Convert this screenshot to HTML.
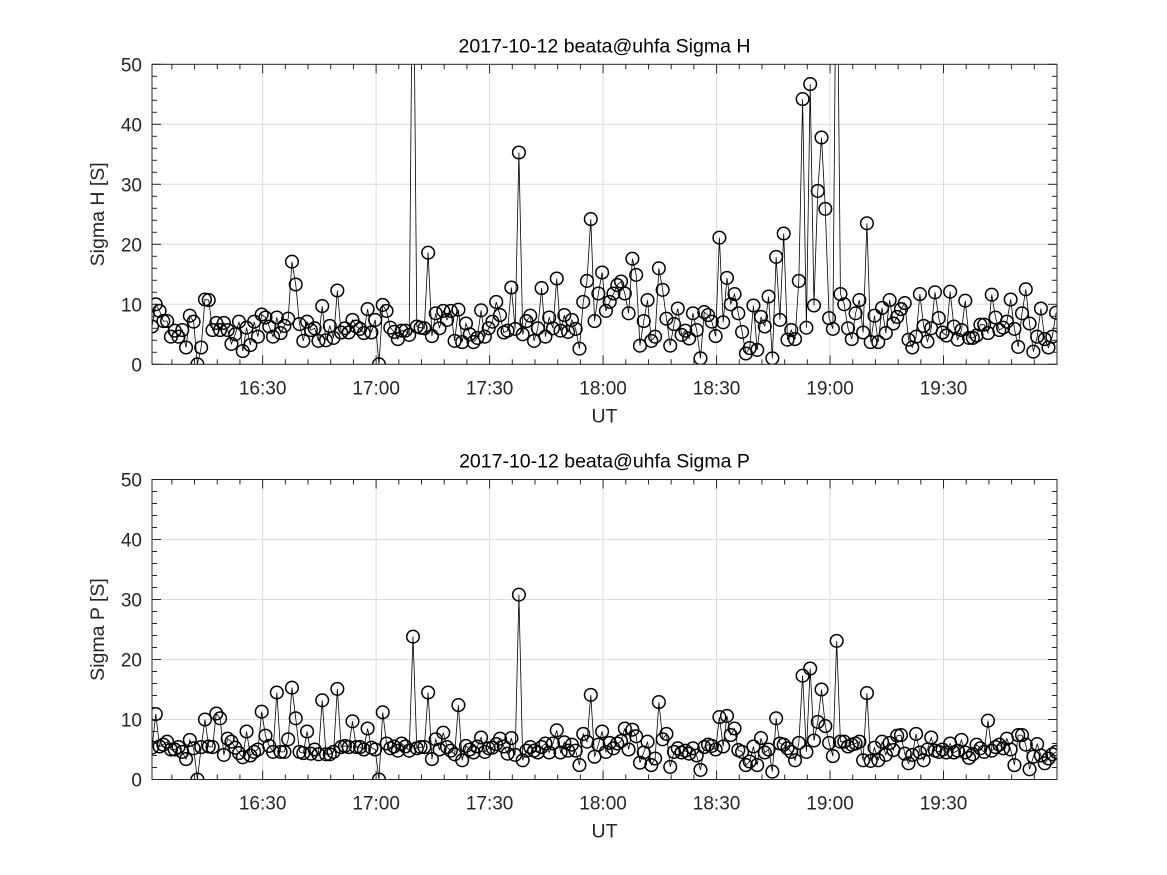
<!DOCTYPE html>
<html><head><meta charset="utf-8"><style>
html,body{margin:0;padding:0;background:#fff;}
svg{display:block;font-family:"Liberation Sans",sans-serif;}
</style></head><body>
<svg id="fig" width="1167" height="875" viewBox="0 0 1167 875" xmlns="http://www.w3.org/2000/svg"></svg>
<script>
// minutes after 16:00 of first sample, one sample per minute
const startMinute = 0.75;
const xTickLabels = ["16:30","17:00","17:30","18:00","18:30","19:00","19:30"];
const xTickMinutes = [30,60,90,120,150,180,210];
const yTickLabels = ["0","10","20","30","40","50"];
const yTickValues = [0,10,20,30,40,50];
const sigmaH = [6.3,10,8.9,7.2,7.2,4.6,5.6,4.6,5.7,2.8, 8.1,7.1,0,2.8,10.8,10.7,5.7,6.9,5.7,6.9, 5.7,3.4,5,7.1,2.2,6.1,3.2,7.1,4.6,8.3, 7.8,6.3,4.6,7.8,5.2,6.4,7.6,17.1,13.3,6.7, 3.9,7.1,5.7,6,3.9,9.7,4,6.4,4.4,12.3, 5.3,6,5.3,7.4,6.3,5.9,5.2,9.2,5.3,7.4, 0,9.9,
8.9,6.1,5.4,4.2,5.6,5.6,4.9,80,6.3,6.1, 6,18.6,4.7,8.5,6,8.9,7.4,8.9,3.9,9.1, 3.7,6.8,5,3.7,4.4,9,4.6,6,7.1,10.4, 8.2,5.3,5.6,12.8,5.9,35.3,5,7.2,8.1,3.9, 6,12.7,4.6,7.8,6,14.3,5.6,8.2,5.4,7.4, 5.9,2.6,10.4,13.9,24.2,7.2,11.8,15.3,8.9,
10.4,11.8,13.2,13.8,11.8,8.5,17.6,14.9,3.1,7.2, 10.7,3.9,4.6,16,12.4,7.6,3.1,6.7,9.3,4.9, 5.6,4.3,8.5,5.7,1,8.7,8.2,7.1,4.7,21.1, 7,14.4,10,11.7,8.5,5.4,1.8,2.7,9.8,2.4, 7.9,6.3,11.3,1,17.9,7.4,21.8,4.1,5.7,4.2, 13.9,44.2,6.1,46.7,9.8,28.9,37.8,25.9,7.7,5.9, 80,
11.7,10,6,4.2,8.5,10.7,5.3,23.5,3.7,8.1, 3.7,9.4,5.2,10.7,6.8,7.9,9.2,10.2,4.1,2.8, 4.6,11.7,6.4,3.8,6,12,7.7,5.3,4.8,12.1, 6.3,4.1,5.7,10.6,4.4,4.4,4.8,6.6,6.6,5.2, 11.6,7.8,5.7,6.1,7.1,10.8,5.9,2.9,8.5,12.5, 6.8,2.1,4.6,9.3,4.2,2.8,4.6,8.6];
const sigmaP = [5.3,10.9,5.5,5.8,6.3,5.0,5.0,5.4,4.6,3.4,
6.6,5.2,0,5.4,10.0,5.5,5.4,11.0,10.2,4.1,
6.8,6.3,5.3,4.4,3.7,8.0,4.0,4.6,5.0,11.3,
7.3,5.6,4.6,14.5,4.6,4.6,6.7,15.3,10.2,4.6,
4.4,8.0,4.3,5.0,4.2,13.2,4.2,4.2,4.6,15.1,
5.4,5.6,5.4,9.7,5.4,5.4,5.0,8.5,5.3,5.0,
0,11.2,6.0,5.2,5.5,4.8,6.0,5.5,4.8,23.8,
5.2,5.4,5.4,14.5,3.4,6.7,5.0,7.8,5.4,4.8,
4.2,12.4,3.2,5.6,5.0,4.5,5.5,7.0,4.6,5.2,
5.3,5.9,6.8,5.5,4.3,6.9,4.1,30.8,3.2,4.8,
5.4,4.8,4.5,5.4,6.0,4.5,6.0,8.2,4.5,6.2,
4.8,5.8,4.8,2.4,7.6,6.3,14.1,3.8,5.8,8.0,
4.6,6.1,5.2,6.0,6.4,8.5,5.0,8.3,7.2,2.8,
4.5,6.3,2.4,3.5,12.9,6.7,7.6,2.1,4.6,5.2,
4.5,4.8,4.3,5.2,4.0,1.6,5.4,5.8,5.6,5.0,
10.4,5.5,10.6,7.4,8.5,4.9,4.6,2.4,3.0,5.5,
2.4,6.9,4.5,5.0,1.3,10.2,6.0,5.8,5.2,4.6,
3.2,6.1,17.3,4.6,18.5,6.5,9.6,15.0,8.9,6.1,
3.9,23.1,6.3,6.3,5.5,5.8,6.0,6.3,3.2,14.4,
3.1,5.3,3.2,6.3,4.1,6.1,4.9,7.3,7.4,4.3,
2.7,4.1,7.6,4.5,3.2,5.0,7.0,4.8,4.6,5.0,
4.5,6.0,4.5,4.8,6.6,4.5,3.6,4.2,5.8,5.2,
4.6,9.8,4.8,5.4,5.8,5.2,6.8,5.0,2.4,7.4,
7.4,5.8,1.7,3.8,5.9,4.0,2.7,3.5,4.2,4.6];

const NS="http://www.w3.org/2000/svg";
const svg=document.getElementById('fig');
function mk(tag,attrs,parent){const e=document.createElementNS(NS,tag);for(const k in attrs)e.setAttribute(k,attrs[k]);(parent||svg).appendChild(e);return e;}
const X0=152,X1=1057,M0=0.75,M1=240;
function xs(m){return X0+(m-M0)/(M1-M0)*(X1-X0);}

function panel(id,top,bottom,title,ylab,data){
  const g=mk('g',{});
  
  
  const ys=v=>bottom-(v/50)*(bottom-top);
  mk('rect',{x:X0,y:top,width:X1-X0,height:bottom-top,fill:'#fff'},g);
  // grid
  const grid=mk('g',{stroke:'#dcdcdc','stroke-width':1},g);
  
  
  xTickMinutes.forEach(m=>mk('line',{x1:xs(m),x2:xs(m),y1:top,y2:bottom},grid));
  yTickValues.forEach(v=>mk('line',{x1:X0,x2:X1,y1:ys(v),y2:ys(v)},grid));
  // clip
  const cp=mk('clipPath',{id:'clip-'+id},g);
  mk('rect',{x:X0,y:top,width:X1-X0,height:bottom-top},cp);
  const sg=mk('g',{'clip-path':'url(#clip-'+id+')'},g);
  
  
  let d='';
  data.forEach((v,i)=>{d+=(i?'L':'M')+xs(M0+i).toFixed(2)+' '+ys(v).toFixed(2);});
  const line=mk('path',{d:d,fill:'none',stroke:'#000','stroke-width':0.8},sg);
  
  
  data.forEach((v,i)=>{
    const c=mk('circle',{cx:xs(M0+i),cy:ys(v),r:6.3,fill:'none',stroke:'#000','stroke-width':1.5},sg);
    
    
  });
  // ticks
  const tk=mk('g',{stroke:'#262626','stroke-width':1},g);
  for(let m=6;m<=240;m+=6){const x=xs(m);if(x<X0||x>X1)continue;const L=(m%30===0)?9:5;
    mk('line',{x1:x,x2:x,y1:bottom,y2:bottom-L},tk);mk('line',{x1:x,x2:x,y1:top,y2:top+L},tk);}
  for(let v=0;v<=50;v+=2){const y=ys(v);const L=(v%10===0)?9:5;
    mk('line',{x1:X0,x2:X0+L,y1:y,y2:y},tk);mk('line',{x1:X1,x2:X1-L,y1:y,y2:y},tk);}
  const frame=mk('rect',{x:X0,y:top,width:X1-X0,height:bottom-top,fill:'none',stroke:'#262626','stroke-width':1},g);
  
  
  xTickLabels.forEach((s,i)=>{const t=mk('text',{x:xs(xTickMinutes[i]),y:bottom+30,'text-anchor':'middle','font-size':19,fill:'#262626'},g);t.textContent=s;
    
    });
  yTickLabels.forEach((s,i)=>{const t=mk('text',{x:X0-10,y:ys(yTickValues[i])+7,'text-anchor':'end','font-size':19,fill:'#262626'},g);t.textContent=s;
    
    });
  const tt=mk('text',{x:(X0+X1)/2,y:top-12,'text-anchor':'middle','font-size':19.5,fill:'#000'},g);tt.textContent=title;
  
  
  const xl=mk('text',{x:(X0+X1)/2,y:bottom+58,'text-anchor':'middle','font-size':19.5,fill:'#262626'},g);xl.textContent='UT';
  
  
  const cy=(top+bottom)/2;
  const yl=mk('text',{x:104,y:cy,'text-anchor':'middle','font-size':19.5,fill:'#262626',transform:'rotate(-90 104 '+cy+')'},g);yl.textContent=ylab;
  
  
}
panel('sigma-h',64.3,364.3,'2017-10-12  beata@uhfa Sigma H','Sigma H [S]',sigmaH);
panel('sigma-p',479.5,779.5,'2017-10-12  beata@uhfa Sigma P','Sigma P [S]',sigmaP);
</script>
</body></html>
